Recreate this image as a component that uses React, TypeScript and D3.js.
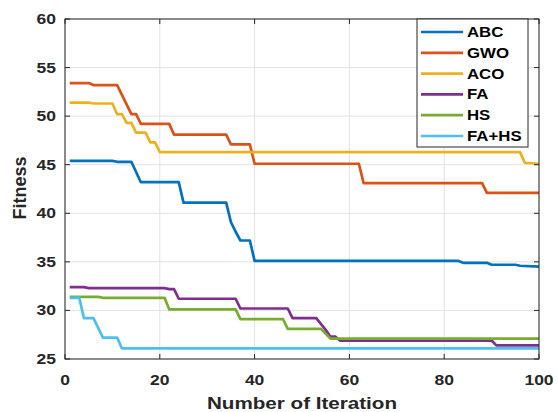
import React from "react";
import * as d3 from "d3";

const seriesNames = ["ABC", "GWO", "ACO", "FA", "HS", "FA+HS"];
const seriesColors = ["#0072BD", "#D95319", "#EDB120", "#7E2F8E", "#77AC30", "#4DBEEE"];

const abcIter = [1, 10, 11, 14, 16, 24, 25, 34, 35, 36, 37, 39, 40, 83, 84, 89, 90, 95, 96, 100];
const abcFit = [45.4, 45.4, 45.3, 45.3, 43.2, 43.2, 41.1, 41.1, 39.1, 38.1, 37.2, 37.2, 35.1, 35.1, 34.9, 34.9, 34.7, 34.7, 34.6, 34.5];

const gwoIter = [1, 5, 6, 11, 14, 15, 16, 22, 23, 34, 35, 39, 40, 62, 63, 88, 89, 100];
const gwoFit = [53.4, 53.4, 53.2, 53.2, 50.2, 50.2, 49.2, 49.2, 48.1, 48.1, 47.1, 47.1, 45.1, 45.1, 43.1, 43.1, 42.1, 42.1];

const acoIter = [1, 5, 6, 10, 11, 12, 13, 14, 15, 17, 18, 19, 20, 96, 97, 100];
const acoFit = [51.4, 51.4, 51.3, 51.3, 50.2, 50.2, 49.3, 49.3, 48.3, 48.3, 47.3, 47.3, 46.3, 46.3, 45.2, 45.1];

const faIter = [1, 4, 5, 21, 22, 23, 24, 36, 37, 47, 48, 53, 55, 56, 57, 58, 90, 91, 100];
const faFit = [32.4, 32.4, 32.3, 32.3, 32.2, 32.2, 31.2, 31.2, 30.2, 30.2, 29.2, 29.2, 28.0, 27.3, 27.3, 26.9, 26.9, 26.4, 26.4];

const hsIter = [1, 7, 8, 21, 22, 36, 37, 46, 47, 54, 56, 100];
const hsFit = [31.4, 31.4, 31.3, 31.3, 30.1, 30.1, 29.1, 29.1, 28.1, 28.1, 27.1, 27.1];

const fahsIter = [1, 3, 4, 6, 8, 11, 12, 100];
const fahsFit = [31.3, 31.3, 29.2, 29.2, 27.2, 27.2, 26.1, 26.1];

const xTicks = [0, 20, 40, 60, 80, 100];
const yTicks = [25, 30, 35, 40, 45, 50, 55, 60];

const allIters = [abcIter, gwoIter, acoIter, faIter, hsIter, fahsIter];
const allFits = [abcFit, gwoFit, acoFit, faFit, hsFit, fahsFit];

export default function App() {
  const W = 558, H = 412;
  const left = 65, right = 539, top = 19, bottom = 359;
  const x = d3.scaleLinear().domain([0, 100]).range([left, right]);
  const y = d3.scaleLinear().domain([25, 60]).range([bottom, top]);
  const line = d3.line<[number, number]>().x(d => x(d[0])).y(d => y(d[1]));
  const font = "'Liberation Sans', Arial, sans-serif";
  const txt = "#262626";
  const tickLen = 5;
  const sx = 1.25;

  const legX = 417, legY = 19, legW = 111, legH = 128;
  const rowH = 20.8;

  return (
    <svg width={W} height={H} style={{ position: "absolute", left: 0, top: 0, background: "#fff" }}>
      <rect x={0} y={0} width={W} height={H} fill="#fff" />
      {/* grid */}
      {xTicks.map(t => (
        <line key={"gx" + t} x1={x(t)} x2={x(t)} y1={top} y2={bottom} stroke="#e3e3e3" strokeWidth={1} />
      ))}
      {yTicks.map(t => (
        <line key={"gy" + t} x1={left} x2={right} y1={y(t)} y2={y(t)} stroke="#e3e3e3" strokeWidth={1} />
      ))}
      {/* series */}
      {allIters.map((it, i) => (
        <path
          key={seriesNames[i]}
          d={line(it.map((v, j) => [v, allFits[i][j]] as [number, number])) || ""}
          fill="none"
          stroke={seriesColors[i]}
          strokeWidth={2.7}
          strokeLinejoin="round"
        />
      ))}
      {/* box */}
      <rect x={left} y={top} width={right - left} height={bottom - top} fill="none" stroke={txt} strokeWidth={1} />
      {/* ticks */}
      {xTicks.map(t => (
        <g key={"tx" + t}>
          <line x1={x(t)} x2={x(t)} y1={bottom} y2={bottom - tickLen} stroke={txt} />
          <line x1={x(t)} x2={x(t)} y1={top} y2={top + tickLen} stroke={txt} />
          <text transform={`translate(${x(t)},385) scale(${sx},1)`} textAnchor="middle" fontFamily={font} fontWeight="bold" fontSize={14} fill={txt}>
            {t}
          </text>
        </g>
      ))}
      {yTicks.map(t => (
        <g key={"ty" + t}>
          <line x1={left} x2={left + tickLen} y1={y(t)} y2={y(t)} stroke={txt} />
          <line x1={right} x2={right - tickLen} y1={y(t)} y2={y(t)} stroke={txt} />
          <text transform={`translate(56,${y(t) + 5}) scale(${sx},1)`} textAnchor="end" fontFamily={font} fontWeight="bold" fontSize={14} fill={txt}>
            {t}
          </text>
        </g>
      ))}
      {/* axis titles */}
      <text transform={`translate(302,409) scale(${sx},1)`} textAnchor="middle" fontFamily={font} fontWeight="bold" fontSize={16.5} fill={txt}>
        Number of Iteration
      </text>
      <text
        transform={`translate(26,188) rotate(-90)`}
        textAnchor="middle"
        fontFamily={font}
        fontWeight="bold"
        fontSize={18}
        fill={txt}
      >
        Fitness
      </text>
      {/* legend */}
      <rect x={legX} y={legY} width={legW} height={legH} fill="#fff" stroke={txt} strokeWidth={1} />
      {seriesNames.map((n, i) => {
        const cy = legY + 13 + i * rowH;
        return (
          <g key={"leg" + n}>
            <line x1={legX + 4} x2={legX + 46} y1={cy} y2={cy} stroke={seriesColors[i]} strokeWidth={2.7} />
            <text transform={`translate(${legX + 50},${cy + 5}) scale(1.2,1)`} fontFamily={font} fontWeight="bold" fontSize={14} fill="#000">
              {n}
            </text>
          </g>
        );
      })}
    </svg>
  );
}
